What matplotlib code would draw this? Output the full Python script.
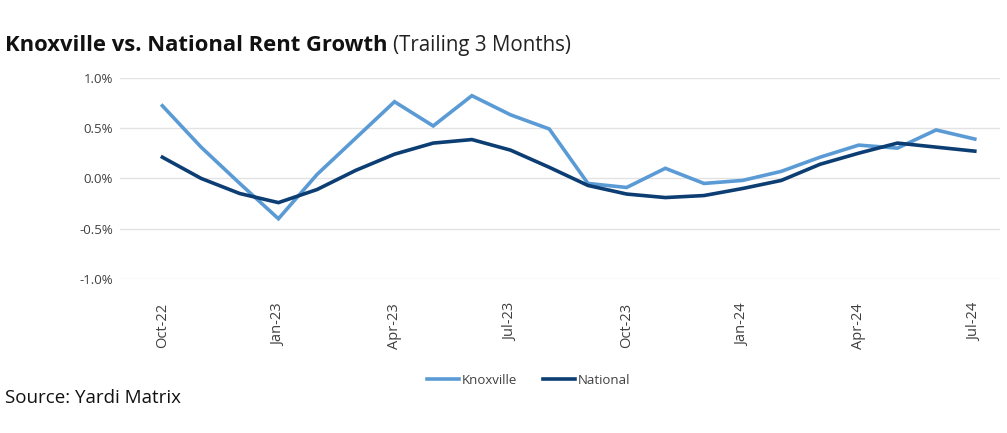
import matplotlib.pyplot as plt
import numpy as np

plt.rcParams['font.family'] = ['Open Sans', 'DejaVu Sans']

months = ['Oct-22', 'Nov-22', 'Dec-22', 'Jan-23', 'Feb-23', 'Mar-23', 'Apr-23', 'May-23',
          'Jun-23', 'Jul-23', 'Aug-23', 'Sep-23', 'Oct-23', 'Nov-23', 'Dec-23', 'Jan-24',
          'Feb-24', 'Mar-24', 'Apr-24', 'May-24', 'Jun-24', 'Jul-24']
knoxville = [0.72, 0.31, -0.05, -0.40, 0.04, 0.40, 0.76, 0.52, 0.82, 0.63, 0.49,
             -0.05, -0.09, 0.10, -0.05, -0.02, 0.07, 0.21, 0.33, 0.30, 0.48, 0.39]
national = [0.21, 0.00, -0.15, -0.24, -0.11, 0.08, 0.24, 0.35, 0.385, 0.28, 0.11,
            -0.07, -0.155, -0.19, -0.17, -0.10, -0.02, 0.14, 0.25, 0.35, 0.31, 0.27]

knox_color = '#5b9bd5'
nat_color = '#0c3e73'

fig = plt.figure(figsize=(10.07, 4.33), dpi=100)
ax = fig.add_axes([0.119, 0.355, 0.874, 0.466])

x = np.arange(len(months))
ax.plot(x, knoxville, color=knox_color, linewidth=2.6, label='Knoxville', solid_joinstyle='miter')
ax.plot(x, national, color=nat_color, linewidth=2.6, label='National', solid_joinstyle='miter')

ax.set_xlim(-1.1, len(months) - 1 + 0.65)
ax.set_ylim(-1.0, 1.0)
ax.set_yticks([-1.0, -0.5, 0.0, 0.5, 1.0])
ax.yaxis.set_major_formatter(plt.FuncFormatter(lambda v, p: f'{v:.1f}%'))
ax.grid(axis='y', color='#e3e3e3', linewidth=1)
ax.set_axisbelow(True)
for s in ax.spines.values():
    s.set_visible(False)
ax.tick_params(axis='y', length=0, labelsize=9.5, labelcolor='#404040', pad=5)

ax.set_xticks(x[::3])
ax.set_xticklabels(months[::3], rotation=90, fontsize=10.5, color='#404040')
ax.tick_params(axis='x', length=0, pad=17)

leg = fig.legend(loc='center', bbox_to_anchor=(0.525, 0.122), ncol=2, frameon=False,
                 fontsize=9.5, handlelength=2.4, handletextpad=0.2, columnspacing=2.0)
for t in leg.get_texts():
    t.set_color('#404040')

# 标题：粗体部分 + 普通部分
t1 = fig.text(0.005, 0.895, 'Knoxville vs. National Rent Growth', fontsize=15.8,
              fontweight='bold', color='#111111', va='center')
fig.canvas.draw()
bb = t1.get_window_extent()
x_end = bb.x1 / fig.bbox.width
fig.text(x_end + 0.005, 0.895, '(Trailing 3 Months)', fontsize=14.8, color='#222222', va='center')

fig.text(0.005, 0.08, 'Source: Yardi Matrix', fontsize=13.5, color='#111111', va='center')

fig.savefig('out.png', dpi=100)
